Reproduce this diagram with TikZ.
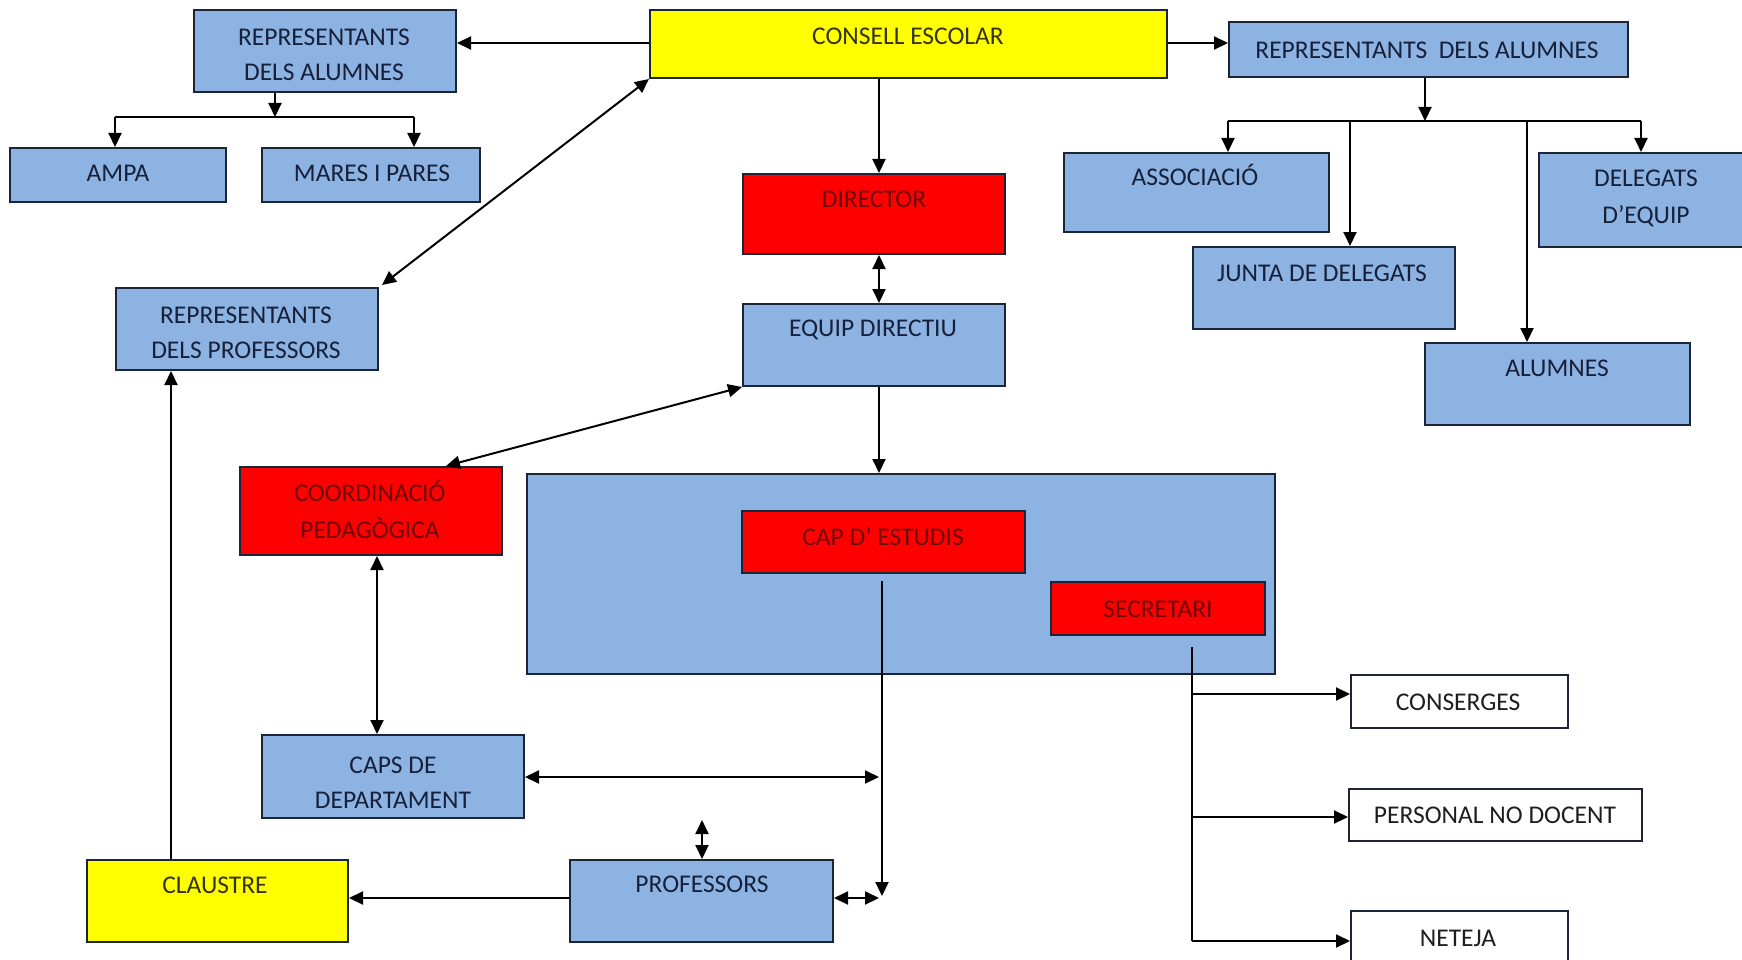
\documentclass[tikz,border=0pt]{standalone}
\usepackage{fontspec}
\setmainfont{Carlito}
\usetikzlibrary{arrows.meta}
\definecolor{boxblue}{HTML}{8DB3E2}
\definecolor{boxyellow}{HTML}{FFFF00}
\definecolor{boxred}{HTML}{FF0000}
\definecolor{edge}{HTML}{1C2538}
\definecolor{navytext}{HTML}{16203A}
\definecolor{redtext}{HTML}{6E0808}
\definecolor{yeltext}{HTML}{33330F}
\definecolor{graytext}{HTML}{1E1E1E}
\begin{document}
\begin{tikzpicture}[x=1pt,y=-1pt,
  box/.style={draw=edge,line width=2pt,anchor=north west,inner sep=0pt},
  bluebox/.style={box,fill=boxblue},
  yelbox/.style={box,fill=boxyellow},
  redbox/.style={box,fill=boxred},
  whitebox/.style={box,fill=white},
  txt/.style={inner sep=0pt,text height=16.3pt,text depth=0pt,font=\fontsize{25.5}{30}\selectfont},
  ntxt/.style={txt,text=navytext},
  rtxt/.style={txt,text=redtext},
  ytxt/.style={txt,text=yeltext},
  gtxt/.style={txt,text=graytext},
  conn/.style={draw=black,line width=2pt},
  arr/.style={conn,-{Triangle[length=14pt,width=13pt]}},
  darr/.style={conn,{Triangle[length=14pt,width=13pt]}-{Triangle[length=14pt,width=13pt]}}
]
\useasboundingbox[fill=white] (0,0) rectangle (1742,960);

% boxes
\node[bluebox,minimum width=262pt,minimum height=82pt] (repA) at (193,9) {};
\node[yelbox,minimum width=517pt,minimum height=68pt] (cons) at (649,9) {};
\node[bluebox,minimum width=399pt,minimum height=55pt] (repB) at (1228,21) {};
\node[bluebox,minimum width=216pt,minimum height=54pt] (ampa) at (9,147) {};
\node[bluebox,minimum width=218pt,minimum height=54pt] (mares) at (261,147) {};
\node[bluebox,minimum width=262pt,minimum height=82pt] (repP) at (115,287) {};
\node[redbox,minimum width=262pt,minimum height=80pt] (dir) at (742,173) {};
\node[bluebox,minimum width=262pt,minimum height=82pt] (equip) at (742,303) {};
\node[bluebox,minimum width=748pt,minimum height=200pt] (big) at (526,473) {};
\node[redbox,minimum width=283pt,minimum height=62pt] (cap) at (741,510) {};
\node[redbox,minimum width=214pt,minimum height=53pt] (sec) at (1050,581) {};
\node[redbox,minimum width=262pt,minimum height=88pt] (coord) at (239,466) {};
\node[bluebox,minimum width=262pt,minimum height=83pt] (caps) at (261,734) {};
\node[yelbox,minimum width=261pt,minimum height=82pt] (claus) at (86,859) {};
\node[bluebox,minimum width=263pt,minimum height=82pt] (prof) at (569,859) {};
\node[bluebox,minimum width=265pt,minimum height=79pt] (assoc) at (1063,152) {};
\node[bluebox,minimum width=216pt,minimum height=94pt] (deleg) at (1538,152) {};
\node[bluebox,minimum width=262pt,minimum height=82pt] (junta) at (1192,246) {};
\node[bluebox,minimum width=265pt,minimum height=82pt] (alum) at (1424,342) {};
\node[whitebox,minimum width=217pt,minimum height=53pt] (conser) at (1350,674) {};
\node[whitebox,minimum width=293pt,minimum height=52pt] (pers) at (1348,788) {};
\node[whitebox,minimum width=217pt,minimum height=60pt] (net) at (1350,910) {};

% texts
\node[ntxt] (repAt1) at (324,37) {REPRESENTANTS};
\node[ntxt] (repAt2) at (324,72) {DELS ALUMNES};
\node[ytxt] (const) at (908,36) {CONSELL ESCOLAR};
\node[ntxt] (repBt) at (1427,50) {REPRESENTANTS\ \ DELS ALUMNES};
\node[ntxt] (ampat) at (118,173) {AMPA};
\node[ntxt] (marest) at (372,173) {MARES I PARES};
\node[ntxt] (repPt1) at (246,315) {REPRESENTANTS};
\node[ntxt] (repPt2) at (246,350) {DELS PROFESSORS};
\node[rtxt] (dirt) at (874,199) {DIRECTOR};
\node[ntxt] (equipt) at (873,328) {EQUIP DIRECTIU};
\node[rtxt] (capt) at (883,537) {CAP D\symbol{"27} ESTUDIS};
\node[rtxt] (sect) at (1158,609) {SECRETARI};
\node[rtxt] (coordt1) at (370,493) {COORDINACIÓ};
\node[rtxt] (coordt2) at (370,530) {PEDAGÒGICA};
\node[ntxt] (capst1) at (393,765) {CAPS DE};
\node[ntxt] (capst2) at (393,800) {DEPARTAMENT};
\node[ytxt] (claust) at (215,885) {CLAUSTRE};
\node[ntxt] (proft) at (702,884) {PROFESSORS};
\node[ntxt] (assoct) at (1195,177) {ASSOCIACIÓ};
\node[ntxt] (delegt1) at (1646,178) {DELEGATS};
\node[ntxt] (delegt2) at (1646,215) {D’EQUIP};
\node[ntxt] (juntat) at (1322,273) {JUNTA DE DELEGATS};
\node[ntxt] (alumt) at (1557,368) {ALUMNES};
\node[gtxt] (consert) at (1458,702) {CONSERGES};
\node[gtxt] (perst) at (1495,815) {PERSONAL NO DOCENT};
\node[gtxt] (nett) at (1458,938) {NETEJA};

% connector coordinates
\coordinate (jA) at (275,117);
\coordinate (jAl) at (115,117);
\coordinate (jAr) at (414,117);
\coordinate (jB) at (1425,121);
\coordinate (jBl) at (1228,121);
\coordinate (jBr) at (1641,121);
\coordinate (jBj) at (1350,121);
\coordinate (jBa) at (1527,121);
\coordinate (capS) at (882,581);
\coordinate (capE) at (882,896);
\coordinate (capM) at (879,777);
\coordinate (capP) at (879,898);
\coordinate (profUp) at (702,820);
\coordinate (secS) at (1192,647);
\coordinate (secE) at (1192,941);
\coordinate (secC) at (1192,694);
\coordinate (secP) at (1192,817);
\coordinate (repPne) at (382,285);
\coordinate (mid) at (879,0);

% top left
\draw[arr] (cons.west |- 0,43) -- (repA.east |- 0,43);
\draw[arr] (repA.south -| jA) -- (jA);
\draw[conn] (jAl) -- (jAr);
\draw[arr] (jAl) -- (ampa.north -| jAl);
\draw[arr] (jAr) -- (mares.north -| jAr);
\draw[darr] (repPne) -- (cons.south west);

% top right
\draw[arr] (cons.east |- 0,43) -- (repB.west |- 0,43);
\draw[arr] (repB.south -| jB) -- (jB);
\draw[conn] (jBl) -- (jBr);
\draw[arr] (jBl) -- (assoc.north -| jBl);
\draw[arr] (jBr) -- (deleg.north -| jBr);
\draw[arr] (jBj) -- (junta.north -| jBj);
\draw[arr] (jBa) -- (alum.north -| jBa);

% centre column
\draw[arr] (cons.south -| mid) -- (dir.north -| mid);
\draw[darr] (dir.south -| mid) -- (equip.north -| mid);
\draw[arr] (equip.south -| mid) -- (big.north -| mid);
\draw[darr] (equip.south west) -- (coord.north -| 446,0);
\draw[darr] (coord.south -| 377,0) -- (caps.north -| 377,0);
\draw[arr] (claus.north -| 171,0) -- (repP.south -| 171,0);
\draw[arr] (prof.west |- 0,898) -- (claus.east |- 0,898);
\draw[arr] (capS) -- (capE);
\draw[darr] (caps.east |- capM) -- (capM);
\draw[darr] (prof.east |- capP) -- (capP);
\draw[darr] (profUp) -- (prof.north -| profUp);

% secretari branches
\draw[conn] (secS) -- (secE);
\draw[arr] (secC) -- (conser.west |- secC);
\draw[arr] (secP) -- (pers.west |- secP);
\draw[arr] (secE) -- (net.west |- secE);
\end{tikzpicture}
\end{document}
